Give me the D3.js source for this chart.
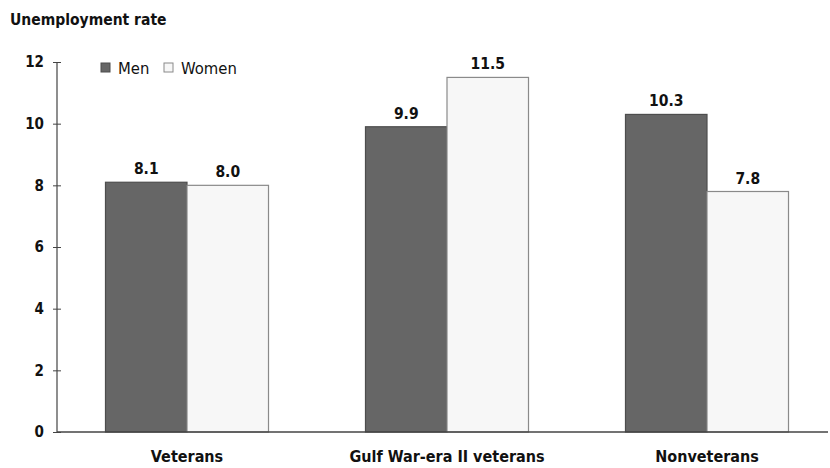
<!DOCTYPE html>
<html>
<head>
<meta charset="utf-8">
<script src="https://cdn.jsdelivr.net/npm/d3@7"></script>
<style>
  body { margin: 0; background: #fff; }
  text { font-family: "DejaVu Sans Condensed", "DejaVu Sans", sans-serif; fill: #111; }
</style>
</head>
<body>
<div id="chart"></div>
<script>
const w = 830;
const h = 468;

// data
const groups = ["Veterans", "Gulf War-era II veterans", "Nonveterans"];
const series = ["Men", "Women"];
const men = [8.1, 9.9, 10.3];
const women = [8.0, 11.5, 7.8];
const yTicks = [0, 2, 4, 6, 8, 10, 12];

const fills = {Men: "#666666", Women: "#f7f7f7"};
const strokes = {Men: "#4d4d4d", Women: "#8a8a8a"};

const rows = groups.map((g, i) => ({group: g, Men: men[i], Women: women[i]}));

const svg = d3.select("#chart")
  .append("svg")
    .attr("width", w)
    .attr("height", h);

//------------------------------------scales----------------------------------------
const x0 = d3.scaleBand()
  .domain(groups)
  .range([57, 837])
  .paddingInner(0.373)
  .paddingOuter(0.1865);

const x1 = d3.scaleBand()
  .domain(series)
  .range([0, x0.bandwidth()]);

const y = d3.scaleLinear()
  .domain([0, 12])
  .range([432, 62]);

//------------------------------------title------------------------------------------
svg.append("text")
  .attr("x", 10)
  .attr("y", 25)
  .style("font-size", "15.5px")
  .style("font-weight", "600")
  .text("Unemployment rate");

//------------------------------------bars-------------------------------------------
const g = svg.selectAll("g.grp")
  .data(rows)
  .enter()
  .append("g")
    .attr("class", "grp")
    .attr("transform", d => "translate(" + x0(d.group) + ",0)");

g.selectAll("rect")
  .data(d => series.map(s => ({key: s, value: d[s]})))
  .enter()
  .append("rect")
    .attr("x", d => x1(d.key))
    .attr("y", d => y(d.value))
    .attr("width", x1.bandwidth())
    .attr("height", d => y(0) - y(d.value))
    .attr("fill", d => fills[d.key])
    .attr("stroke", d => strokes[d.key])
    .attr("stroke-width", 1.2);

g.selectAll("text.val")
  .data(d => series.map(s => ({key: s, value: d[s]})))
  .enter()
  .append("text")
    .attr("class", "val")
    .attr("x", d => x1(d.key) + x1.bandwidth() / 2)
    .attr("y", d => y(d.value) - 8)
    .attr("text-anchor", "middle")
    .style("font-size", "15.5px")
    .style("font-weight", "bold")
    .text(d => d.value.toFixed(1));

//------------------------------------axes-------------------------------------------
const yAxis = svg.append("g")
  .attr("transform", "translate(57,0)")
  .call(d3.axisLeft(y).tickValues(yTicks).tickSize(4).tickPadding(9));
yAxis.select(".domain").remove();
yAxis.selectAll(".tick line").attr("x1", -4).attr("x2", 4).attr("stroke", "#444");
yAxis.selectAll(".tick text")
  .style("font-size", "15px")
  .style("font-weight", "bold")
  .style("font-family", "\"DejaVu Sans Condensed\", sans-serif")
  .attr("fill", "#111");

svg.append("line")
  .attr("x1", 57).attr("x2", 57)
  .attr("y1", y(12)).attr("y2", y(0))
  .attr("stroke", "#444").attr("stroke-width", 1.2);

svg.append("line")
  .attr("x1", 57).attr("x2", 828)
  .attr("y1", y(0)).attr("y2", y(0))
  .attr("stroke", "#444").attr("stroke-width", 1.5);

svg.selectAll("text.cat")
  .data(groups)
  .enter()
  .append("text")
    .attr("class", "cat")
    .attr("x", d => x0(d) + x0.bandwidth() / 2)
    .attr("y", 462)
    .attr("text-anchor", "middle")
    .style("font-size", "16px")
    .style("font-weight", "bold")
    .text(d => d);

//------------------------------------legend-----------------------------------------
const legendX = [101, 164];
const leg = svg.selectAll("g.leg")
  .data(series)
  .enter()
  .append("g")
    .attr("class", "leg")
    .attr("transform", (d, i) => "translate(" + legendX[i] + ",63)");

leg.append("rect")
  .attr("width", 9).attr("height", 9)
  .attr("fill", d => fills[d])
  .attr("stroke", d => strokes[d]);

leg.append("text")
  .attr("x", 17)
  .attr("y", 11)
  .style("font-size", "16.5px")
  .text(d => d);
</script>
</body>
</html>
